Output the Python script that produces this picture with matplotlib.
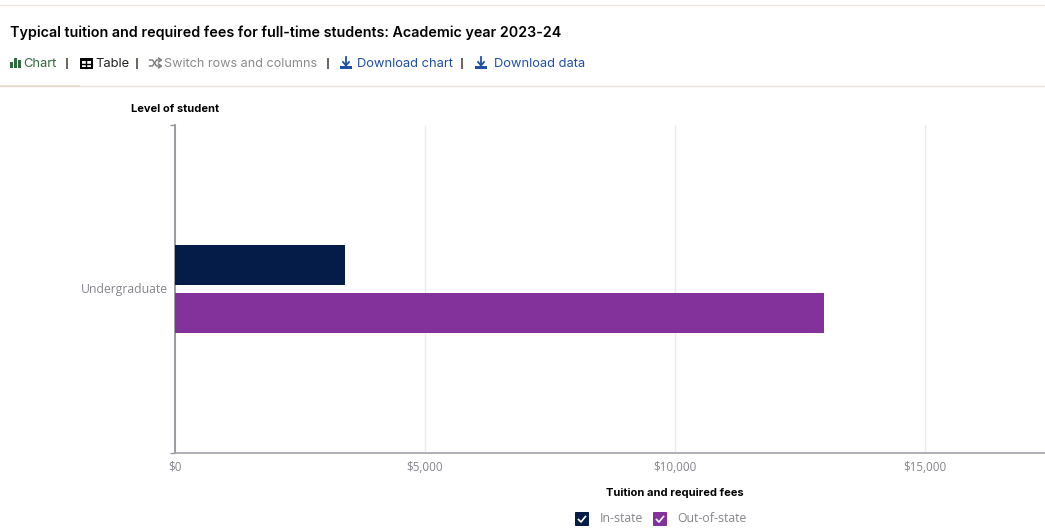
import matplotlib
matplotlib.use('Agg')
import matplotlib.pyplot as plt
from matplotlib.patches import Rectangle, FancyBboxPatch
from matplotlib.lines import Line2D
from matplotlib.transforms import ScaledTranslation

W = 1045
H = 531

categories = ['Undergraduate']
series_names = ['In-state', 'Out-of-state']
in_state = [3400]
out_of_state = [12970]
x_ticks = [0, 5000, 10000, 15000]
x_tick_labels = ['$0', '$5,000', '$10,000', '$15,000']

NAVY = '#051c48'
PURPLE = '#84329b'
GREY = '#85858c'
BLUE = '#1f4fa8'
SEP = '#6e675f'

plt.rcParams['font.family'] = ['Inter', 'Noto Sans', 'DejaVu Sans']


def fx(x):
    return x / W


def fy(y):
    return 1 - y / H


def label(fig, x, y, s, size=9.3, color='black', weight='normal', ha='left', family=None):
    kw = {}
    if family:
        kw['family'] = family
    fig.text(fx(x), fy(y), s, fontsize=size, color=color, fontweight=weight, ha=ha, va='center', **kw)


def hline(fig, x0, x1, y, color='#ece4da', lw=1.0):
    fig.add_artist(Line2D([fx(x0), fx(x1)], [fy(y), fy(y)], color=color, lw=lw))


def stroke(fig, xs, ys, color, lw=1.2):
    fig.add_artist(Line2D([fx(v) for v in xs], [fy(v) for v in ys], color=color, lw=lw))


def box(fig, x, y, w, h, color):
    fig.add_artist(Rectangle((fx(x), fy(y + h)), w / W, h / H, color=color, lw=0, transform=fig.transFigure))


def separator(fig, x):
    box(fig, x, 57.5, 2, 11, SEP)


def download_icon(fig, x, color=BLUE):
    stroke(fig, [x + 6, x + 6], [57, 65], color, 1.3)
    stroke(fig, [x + 3, x + 6, x + 9], [62, 65.5, 62], color, 1.3)
    box(fig, x, 66, 12, 3, color)


def shuffle_icon(fig, x, color='#777777'):
    stroke(fig, [x, x + 3, x + 7, x + 10], [60, 60, 66, 66], color, 1.0)
    stroke(fig, [x, x + 3, x + 7, x + 10], [66, 66, 60, 60], color, 1.0)
    stroke(fig, [x + 9, x + 12, x + 9], [58, 60, 62], color, 1.0)
    stroke(fig, [x + 9, x + 12, x + 9], [64, 66, 68], color, 1.0)


def checkbox(fig, x, y, color):
    fig.add_artist(FancyBboxPatch((fx(x), fy(y + 14)), 14 / W, 14 / H, boxstyle='round,pad=0,rounding_size=0.001',
                                  color=color, lw=0, transform=fig.transFigure))
    stroke(fig, [x + 3.5, x + 6, x + 10.5], [y + 7.5, y + 10, y + 4.5], 'white')


fig = plt.figure(figsize=(W / 100, H / 100), dpi=100)
ax = fig.add_axes([fx(175), fy(453), (W - 175) / W, (453 - 125) / H])

bar_h = 40 / 328
off = 24 / 328
pos = range(len(categories))
ax.barh([p + off for p in pos], in_state, height=bar_h, color=NAVY, zorder=3)
ax.barh([p - off for p in pos], out_of_state, height=bar_h, color=PURPLE, zorder=3)

ax.set_xlim(0, 17400)
ax.set_ylim(-0.5, 0.5)
ax.set_xticks(x_ticks)
ax.set_xticklabels(x_tick_labels, family=['Open Sans', 'DejaVu Sans'], fontsize=8.4, color=GREY)
ax.set_yticks([-0.5, 0, 0.5])
ax.set_yticklabels(['', categories[0], ''], family=['Open Sans', 'DejaVu Sans'], fontsize=8.8, color=GREY)
ax.tick_params(axis='x', length=0, pad=5.6)
ax.tick_params(axis='y', length=3.6, width=1, color='#94949c', pad=1.6)
ax.yaxis.get_major_ticks()[1].tick1line.set_visible(False)
for t in ax.get_yticklabels():
    t.set_transform(t.get_transform() + ScaledTranslation(0, 1 / 100, fig.dpi_scale_trans))
ax.grid(axis='x', color='#ececec', lw=1, zorder=0)
for s in ['top', 'right']:
    ax.spines[s].set_visible(False)
ax.spines['left'].set_color('#94949c')
ax.spines['left'].set_linewidth(1.3)
ax.spines['bottom'].set_color('#a8a8b0')
ax.spines['bottom'].set_linewidth(1.3)

# page header above the chart
hline(fig, 0, 1045, 4.5)
hline(fig, 0, 1045, 85.5)
hline(fig, 0, 79, 86, color='#e5dccf', lw=1.2)
label(fig, 10, 33, 'Typical tuition and required fees for full-time students: Academic year 2023-24',
      size=10.3, weight='semibold')

for bx, bh in [(10, 6), (13.5, 10), (17.5, 8)]:
    box(fig, bx, 68 - bh, 3, bh, '#2e6b3e')
label(fig, 23, 64, 'Chart', color='#2e6b3e')
separator(fig, 66)
fig.add_artist(Rectangle((fx(80.5), fy(67.5)), 11 / W, 9 / H, fill=False, ec='black', lw=1.4,
                         transform=fig.transFigure))
box(fig, 80.5, 58.5, 11, 2.5, 'black')
hline(fig, 80.5, 91.5, 64, color='black', lw=1)
stroke(fig, [86, 86], [58.5, 67.5], 'black', 1)
label(fig, 95, 64, 'Table', color='#222222')
separator(fig, 136)
shuffle_icon(fig, 149.5)
label(fig, 164, 64, 'Switch rows and columns', size=9.1, color='#8a8a8a')
separator(fig, 326.5)
download_icon(fig, 340)
label(fig, 357, 64, 'Download chart', color=BLUE)
separator(fig, 460.5)
download_icon(fig, 475)
label(fig, 494, 64, 'Download data', color=BLUE)

label(fig, 131, 109, 'Level of student', size=8, weight='bold')
label(fig, 675, 493, 'Tuition and required fees', size=8, weight='bold', ha='center')

checkbox(fig, 575, 512, NAVY)
label(fig, 600, 518, series_names[0], size=8.8, color=GREY, family=['Open Sans', 'DejaVu Sans'])
checkbox(fig, 653, 512, PURPLE)
label(fig, 677, 518, series_names[1], size=8.8, color=GREY, family=['Open Sans', 'DejaVu Sans'])

fig.savefig('out.png', dpi=100)
